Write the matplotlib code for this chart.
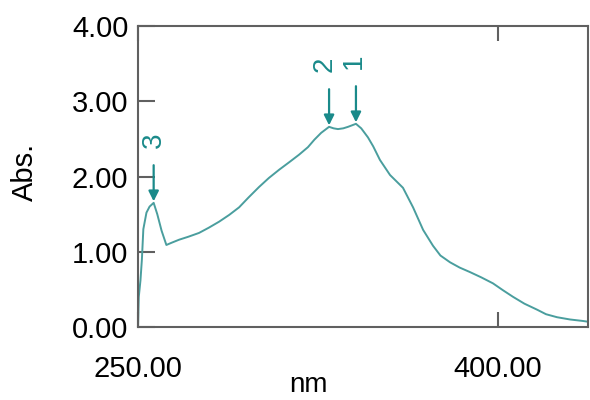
import matplotlib
matplotlib.use("Agg")
import matplotlib.pyplot as plt

# Spectrum data (wavelength nm, absorbance)
wavelength = [250.0, 250.3, 251.0, 251.6, 252.2, 253.5, 254.8, 256.5, 258.0, 259.8,
              261.8, 264.0, 267.1, 271.0, 275.4, 279.5, 283.8, 288.0, 292.1, 296.0,
              300.4, 304.5, 308.8, 313.0, 317.1, 320.8, 323.5, 326.3, 329.6, 331.5,
              333.3, 335.5, 337.5, 340.8, 343.0, 345.8, 348.0, 350.8, 355.0, 360.4,
              364.6, 368.8, 372.9, 376.0, 380.0, 384.0, 388.3, 393.0, 397.9, 402.0,
              406.3, 411.0, 416.3, 420.0, 424.6, 430.0, 435.4, 437.5]
absorbance = [0.02, 0.40, 0.62, 0.90, 1.30, 1.52, 1.60, 1.65, 1.50, 1.28,
              1.09, 1.12, 1.16, 1.20, 1.25, 1.32, 1.40, 1.49, 1.59, 1.72,
              1.86, 1.98, 2.09, 2.19, 2.29, 2.39, 2.49, 2.58, 2.66, 2.64,
              2.63, 2.64, 2.66, 2.70, 2.64, 2.52, 2.40, 2.22, 2.02, 1.85,
              1.59, 1.29, 1.08, 0.95, 0.86, 0.79, 0.73, 0.66, 0.58, 0.49,
              0.40, 0.31, 0.23, 0.17, 0.13, 0.10, 0.08, 0.07]

# Peak markers
peak_labels = ["1", "2", "3"]
peak_nm = [340.8, 329.6, 256.5]
peak_abs = [2.70, 2.66, 1.65]
label_nm = [339.8, 327.6, 256.4]

x_ticks = [250, 400]
x_tick_labels = ["250.00", "400.00"]
y_ticks = [0, 1, 2, 3, 4]
y_tick_labels = ["0.00", "1.00", "2.00", "3.00", "4.00"]

plt.rcParams['font.family'] = ['Liberation Sans', 'DejaVu Sans']

fig = plt.figure(figsize=(5.9, 4.0), dpi=100)
ax = fig.add_axes([0.234, 0.1825, 0.7626, 0.7525])

curve_color = "#4a9e9e"
mark_color = "#1a8a8a"
spine_color = "#606060"

ax.plot(wavelength, absorbance, color=curve_color, lw=1.4)

for lab, px, py, lx in zip(peak_labels, peak_nm, peak_abs, label_nm):
    ax.annotate("", xy=(px, py + 0.02), xytext=(px, py + 0.50),
                arrowprops=dict(arrowstyle="-|>", color=mark_color, lw=1.6,
                                mutation_scale=15, shrinkA=0, shrinkB=0))
    ax.text(lx, py + 0.83, lab, rotation=90, ha="center", va="center",
            color=mark_color, fontsize=20)

ax.set_xlim(250, 437.5)
ax.set_ylim(0, 4)
ax.set_xticks(x_ticks)
ax.set_xticklabels(x_tick_labels)
ax.set_yticks(y_ticks)
ax.set_yticklabels(y_tick_labels)

ax.tick_params(axis="y", direction="in", length=12, width=1.5, color=spine_color,
               labelsize=21, pad=7, left=True, right=False)
ax.tick_params(axis="x", direction="in", length=11, width=1.5, color=spine_color,
               labelsize=21, pad=20, top=True, bottom=True)

for s in ax.spines.values():
    s.set_color(spine_color)
    s.set_linewidth(1.5)

fig.text(25 / 590, 1 - 172 / 400, "Abs.", rotation=90, ha="center", va="center",
         fontsize=21)
fig.text(308 / 590, 2 / 400, "nm", ha="center", va="bottom", fontsize=20)

fig.savefig("out.png", dpi=100)
